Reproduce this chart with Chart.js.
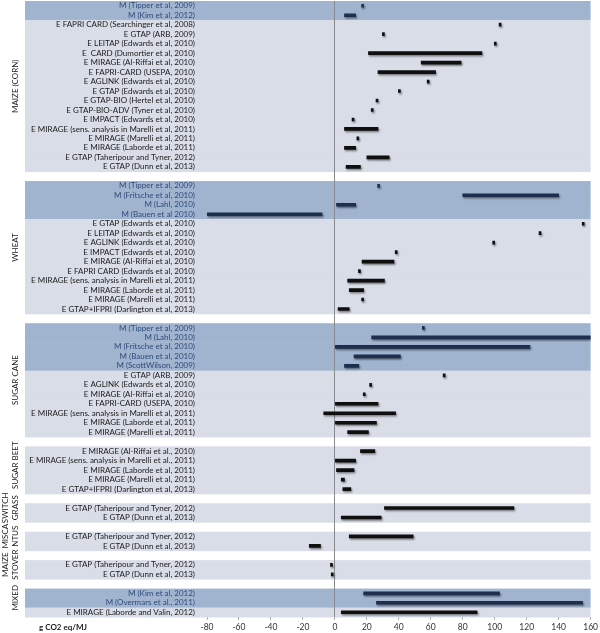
<!DOCTYPE html>
<html>
<head>
<meta charset="utf-8">
<script src="https://cdn.jsdelivr.net/npm/chart.js@4.4.1/dist/chart.umd.min.js"></script>
<style>
  html, body { margin: 0; padding: 0; background: #fff; }
  #wrap { width: 600px; height: 633px; }
</style>
</head>
<body>
<div id="wrap"><canvas id="lucChart" width="600" height="633"></canvas></div>
<script>
// row labels and [low, high] ranges per feedstock group (g CO2 eq/MJ)
const maizeLabels = [
  'M (Tipper et al, 2009)',
  'M (Kim et al, 2012)',
  'E FAPRI CARD (Searchinger et al, 2008)',
  'E GTAP (ARB, 2009)',
  'E LEITAP (Edwards et al, 2010)',
  'E  CARD (Dumortier et al, 2010)',
  'E MIRAGE (Al-Riffai et al, 2010)',
  'E FAPRI-CARD (USEPA, 2010)',
  'E AGLINK (Edwards et al, 2010)',
  'E GTAP (Edwards et al, 2010)',
  'E GTAP-BIO (Hertel et al, 2010)',
  'E GTAP-BIO-ADV (Tyner et al, 2010)',
  'E IMPACT (Edwards et al, 2010)',
  'E MIRAGE (sens. analysis in Marelli et al, 2011)',
  'E MIRAGE (Marelli et al, 2011)',
  'E MIRAGE (Laborde et al, 2011)',
  'E GTAP (Taheripour and Tyner, 2012)',
  'E GTAP (Dunn et al, 2013)'
];
const maizeRanges = [
  [18, 18], [6, 13], [104, 104], [31, 31], [101, 101], [21, 92], [54, 79], [27, 63],
  [59, 59], [41, 41], [27, 27], [24, 24], [12, 12], [6, 27], [15, 15], [6, 13], [20, 34], [7, 16]
];

const wheatLabels = [
  'M (Tipper et al, 2009)',
  'M (Fritsche et al, 2010)',
  'M (Lahl, 2010)',
  'M (Bauen et al 2010)',
  'E GTAP (Edwards et al, 2010)',
  'E LEITAP (Edwards et al, 2010)',
  'E AGLINK (Edwards et al, 2010)',
  'E IMPACT (Edwards et al, 2010)',
  'E MIRAGE (Al-Riffai et al, 2010)',
  'E FAPRI CARD (Edwards et al, 2010)',
  'E MIRAGE (sens. analysis in Marelli et al, 2011)',
  'E MIRAGE (Laborde et al, 2011)',
  'E MIRAGE (Marelli et al, 2011)',
  'E GTAP+IFPRI (Darlington et al, 2013)'
];
const wheatRanges = [
  [28, 28], [80, 140], [1, 13], [-80, -8], [156, 156], [129, 129], [100, 100],
  [39, 39], [17, 37], [16, 16], [8, 31], [9, 18], [18, 18], [2, 9]
];

const caneLabels = [
  'M (Tipper et al, 2009)',
  'M (Lahl, 2010)',
  'M (Fritsche et al, 2010)',
  'M (Bauen et al, 2010)',
  'M (ScottWilson, 2009)',
  'E GTAP (ARB, 2009)',
  'E AGLINK (Edwards et al, 2010)',
  'E MIRAGE (Al-Riffai et al, 2010)',
  'E FAPRI-CARD (USEPA, 2010)',
  'E MIRAGE (sens. analysis in Marelli et al, 2011)',
  'E MIRAGE (Laborde et al, 2011)',
  'E MIRAGE (Marelli et al, 2011)'
];
const caneRanges = [
  [56, 56], [23, 160], [0, 122], [12, 41], [6, 15], [69, 69],
  [23, 23], [19, 19], [0, 27], [-7, 38], [0, 26], [8, 21]
];

const beetLabels = [
  'E MIRAGE (Al-Riffai et al., 2010)',
  'E MIRAGE (sens. analysis in Marelli et al., 2011)',
  'E MIRAGE (Laborde et al, 2011)',
  'E MIRAGE (Marelli et al, 2011)',
  'E GTAP+IFPRI (Darlington et al, 2013)'
];
const beetRanges = [[16, 25], [0, 13], [1, 12], [4, 6], [5, 10]];

const switchLabels = ['E GTAP (Taheripour and Tyner, 2012)', 'E GTAP (Dunn et al, 2013)'];
const switchRanges = [[31, 112], [4, 29]];

const miscLabels = ['E GTAP (Taheripour and Tyner, 2012)', 'E GTAP (Dunn et al, 2013)'];
const miscRanges = [[9, 49], [-16, -9]];

const stoverLabels = ['E GTAP (Taheripour and Tyner, 2012)', 'E GTAP (Dunn et al, 2013)'];
const stoverRanges = [[-1.5, -1.5], [-1, -1]];

const mixedLabels = ['M (Kim et al, 2012)', 'M (Overmars et al., 2011)', 'E MIRAGE (Laborde and Valin, 2012)'];
const mixedRanges = [[18, 103], [26, 155], [4, 89]];

const groupNames = [
  ['MAIZE (CORN)'], ['WHEAT'], ['SUGAR CANE'], ['SUGAR BEET'],
  ['SWITCH', 'GRASS'], ['MISCA', 'NTUS'], ['MAIZE', 'STOVER'], ['MIXED']
];

const xTicks = [-80, -60, -40, -20, 0, 20, 40, 60, 80, 100, 120, 140, 160];

// build the category rows, with one empty row between groups
const groups = [
  [maizeLabels, maizeRanges], [wheatLabels, wheatRanges], [caneLabels, caneRanges],
  [beetLabels, beetRanges], [switchLabels, switchRanges], [miscLabels, miscRanges],
  [stoverLabels, stoverRanges], [mixedLabels, mixedRanges]
];
const rowLabels = [];
const rowRanges = [];
const groupSpans = [];
groups.forEach((g, gi) => {
  if (gi > 0) { rowLabels.push(''); rowRanges.push(null); }
  const start = rowLabels.length;
  g[0].forEach((lab, i) => { rowLabels.push(lab); rowRanges.push(g[1][i]); });
  groupSpans.push([start, rowLabels.length - 1]);
});

const isModel = (i) => rowLabels[i].startsWith('M');
const FONT = "Lato, 'Liberation Sans', sans-serif";

// background bands behind each row
const bandPlugin = {
  id: 'bands',
  beforeDraw(chart) {
    const y = chart.scales.y;
    const ctx = chart.ctx;
    const slot = y.getPixelForValue(1) - y.getPixelForValue(0);
    ctx.save();
    rowLabels.forEach((lab, i) => {
      if (lab === '') return;
      const c = y.getPixelForValue(i);
      ctx.fillStyle = isModel(i) ? '#a1b4cf' : '#d9dde7';
      ctx.fillRect(25, c - slot / 2, chart.chartArea.right - 25, slot + 0.5);
    });
    ctx.restore();
  }
};

// soft drop shadow under the bars
const shadowPlugin = {
  id: 'shadow',
  beforeDatasetDraw(chart) {
    const ctx = chart.ctx;
    ctx.save();
    ctx.shadowColor = 'rgba(0,0,0,0.45)';
    ctx.shadowOffsetX = 1;
    ctx.shadowOffsetY = 1.5;
    ctx.shadowBlur = 2;
  },
  afterDatasetDraw(chart) {
    chart.ctx.restore();
  }
};

// rotated group names and the unit label
const textPlugin = {
  id: 'texts',
  afterDraw(chart) {
    const y = chart.scales.y;
    const x = chart.scales.x;
    const ctx = chart.ctx;
    ctx.save();
    ctx.fillStyle = '#1a1a1a';
    ctx.font = '8px ' + FONT;
    ctx.textAlign = 'center';
    ctx.textBaseline = 'middle';
    groupSpans.forEach((span, gi) => {
      const lines = groupNames[gi];
      const cy = (y.getPixelForValue(span[0]) + y.getPixelForValue(span[1])) / 2 - (lines.length > 1 || span[1] - span[0] < 6 ? 5 : 0);
      lines.forEach((line, k) => {
        const cx = 15 - (lines.length - 1 - k) * 10;
        ctx.save();
        ctx.translate(cx, cy);
        ctx.rotate(-Math.PI / 2);
        ctx.fillText(line, 0, 0);
        ctx.restore();
      });
    });
    ctx.font = 'bold 8px ' + FONT;
    ctx.fillText('g CO2 eq/MJ', 63, x.bottom - 6);
    ctx.restore();
  }
};

const ctxChart = document.getElementById('lucChart').getContext('2d');
const lucChart = new Chart(ctxChart, {
  type: 'bar',
  data: {
    labels: rowLabels,
    datasets: [{
      data: rowRanges,
      backgroundColor: (c) => (isModel(c.dataIndex) ? '#1e2e4d' : '#0f0f0f'),
      barThickness: 3,
      minBarLength: 2,
      borderSkipped: false
    }]
  },
  options: {
    indexAxis: 'y',
    responsive: false,
    animation: false,
    devicePixelRatio: 1,
    layout: { padding: { top: 1, right: 8, bottom: 0, left: 0 } },
    plugins: {
      legend: { display: false },
      tooltip: { enabled: false }
    },
    scales: {
      x: {
        min: -80,
        max: 160,
        afterBuildTicks: (scale) => { scale.ticks = xTicks.map(v => ({ value: v })); },
        afterFit: (scale) => { scale.height = 16; },
        border: { display: false },
        grid: {
          color: (c) => (c.tick && c.tick.value === 0 ? '#8a8a8a' : 'rgba(0,0,0,0)'),
          tickColor: '#b5b5b5',
          tickLength: 3
        },
        ticks: {
          color: '#333',
          font: { family: FONT, size: 8.5 },
          padding: 2
        }
      },
      y: {
        afterFit: (scale) => {
          scale.width = 207;
          scale.paddingTop = 0;
          scale.paddingBottom = 0;
        },
        border: { display: false },
        grid: { display: false, drawTicks: false },
        ticks: {
          autoSkip: false,
          padding: 12,
          color: (c) => (isModel(c.index) ? '#2e4b7a' : '#1a1a1a'),
          font: { family: FONT, size: 8 }
        }
      }
    }
  },
  plugins: [bandPlugin, shadowPlugin, textPlugin]
});
</script>
</body>
</html>
